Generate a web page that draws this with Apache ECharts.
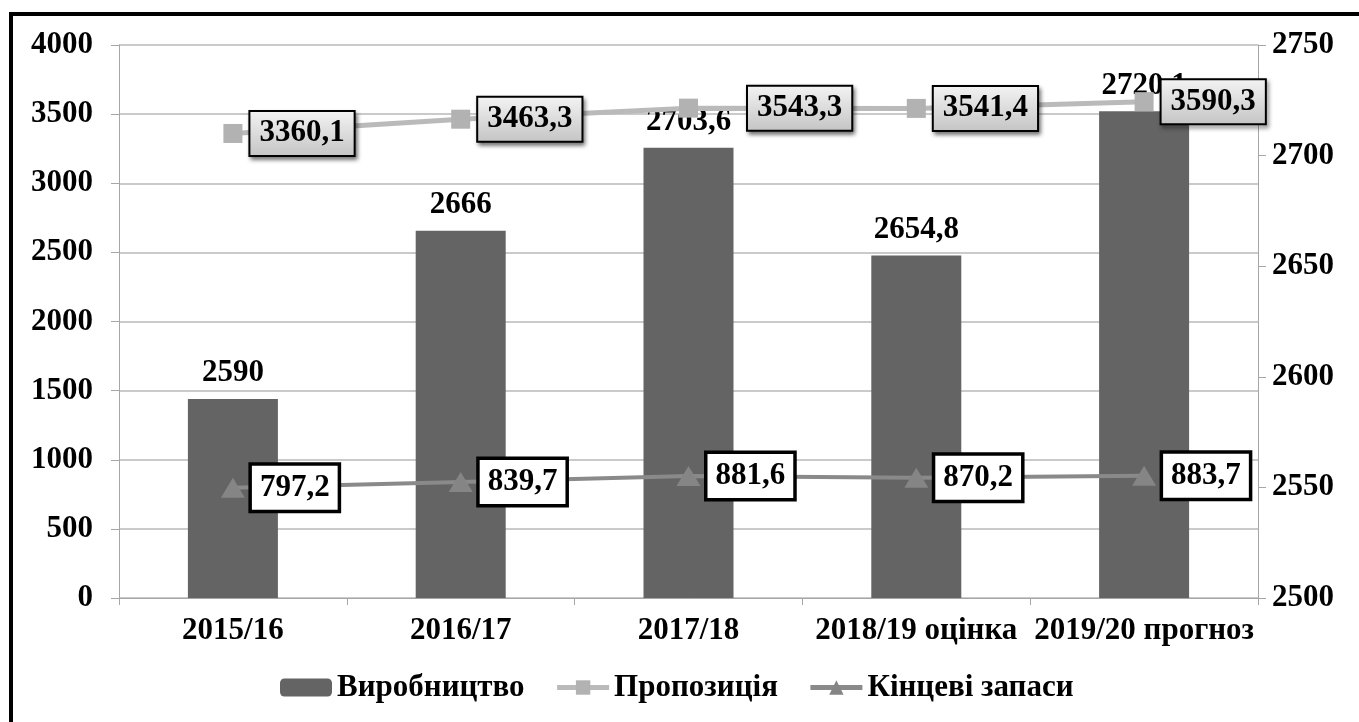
<!DOCTYPE html>
<html>
<head>
<meta charset="utf-8">
<script src="https://cdn.jsdelivr.net/npm/echarts@6/dist/echarts.min.js"></script>
<style>
  html, body { margin: 0; padding: 0; background: #fff; overflow: hidden; }
  #frame { position: absolute; left: 9px; top: 12px; width: 1400px; height: 800px; border: 4px solid #000; box-sizing: border-box; }
  #chart { position: absolute; left: 0; top: 0; width: 1359px; height: 722px; }
</style>
</head>
<body>
<div id="frame"></div>
<div id="chart"></div>
<script>
// категорії та значення
const categories = ['2015/16', '2016/17', '2017/18', '2018/19 оцінка', '2019/20 прогноз'];
const production = [2590, 2666, 2703.6, 2654.8, 2720.1];   // Виробництво (права вісь)
const supply = [3360.1, 3463.3, 3543.3, 3541.4, 3590.3];   // Пропозиція (ліва вісь)
const stocks = [797.2, 839.7, 881.6, 870.2, 883.7];        // Кінцеві запаси (ліва вісь)

const leftTicks = { min: 0, max: 4000, interval: 500 };
const rightTicks = { min: 2500, max: 2750, interval: 50 };

const font = 'Liberation Serif, Times New Roman, serif';
const fs = 31;
const comma = v => String(v).replace('.', ',');

// у 2017/18 підпис пропозиції зсунуто вправо, щоб не накривати підпис стовпця
const supplyData = supply.map((v, i) => i === 2 ? { value: v, label: { distance: 50 } } : v);

const chart = echarts.init(document.getElementById('chart'));

const option = {
    backgroundColor: 'transparent',
    textStyle: { fontFamily: font, fontWeight: 'bold', color: '#000' },
    grid: { left: 119, right: 101, top: 45, bottom: 124 },
    legend: {
        bottom: 14,
        left: 275,
        itemWidth: 52,
        itemHeight: 18,
        itemGap: 30,
        lineStyle: { width: 5 },
        textStyle: { fontFamily: font, fontWeight: 'bold', fontSize: fs, color: '#000' },
        data: ['Виробництво', 'Пропозиція', 'Кінцеві запаси']
    },
    xAxis: {
        type: 'category',
        data: categories,
        axisLine: { lineStyle: { color: '#a6a6a6', width: 1 } },
        axisTick: { show: true, length: 7, lineStyle: { color: '#a6a6a6' } },
        axisLabel: { fontFamily: font, fontWeight: 'bold', fontSize: fs, color: '#000', margin: 17, interval: 0 }
    },
    yAxis: [
        {
            type: 'value',
            min: leftTicks.min,
            max: leftTicks.max,
            interval: leftTicks.interval,
            axisLine: { show: true, lineStyle: { color: '#a6a6a6' } },
            axisTick: { show: true, length: 8, lineStyle: { color: '#a6a6a6' } },
            axisLabel: { fontFamily: font, fontWeight: 'bold', fontSize: fs, color: '#000', margin: 26, formatter: v => String(v) },
            splitLine: { lineStyle: { color: '#b8b8b8', width: 1.5 } }
        },
        {
            type: 'value',
            min: rightTicks.min,
            max: rightTicks.max,
            interval: rightTicks.interval,
            position: 'right',
            axisLine: { show: true, lineStyle: { color: '#a6a6a6' } },
            axisTick: { show: true, length: 8, lineStyle: { color: '#a6a6a6' } },
            axisLabel: { fontFamily: font, fontWeight: 'bold', fontSize: fs, color: '#000', margin: 14, formatter: v => String(v) },
            splitLine: { show: false }
        }
    ],
    series: [
        {
            name: 'Виробництво',
            type: 'bar',
            yAxisIndex: 1,
            data: production,
            barWidth: 90,
            itemStyle: { color: '#646464' },
            label: {
                show: true,
                position: 'top',
                distance: 10,
                fontFamily: font,
                fontWeight: 'bold',
                fontSize: fs,
                color: '#000',
                formatter: p => comma(p.value)
            },
            z: 2
        },
        {
            name: 'Пропозиція',
            type: 'line',
            yAxisIndex: 0,
            data: supplyData,
            symbol: 'rect',
            symbolSize: 19,
            lineStyle: { color: '#bababa', width: 5 },
            itemStyle: { color: '#b2b2b2' },
            label: {
                show: true,
                position: 'right',
                distance: 8,
                fontFamily: font,
                fontWeight: 'bold',
                fontSize: fs,
                color: '#000',
                padding: [7, 9, 5, 9],
                borderColor: '#000',
                borderWidth: 2,
                backgroundColor: {
                    type: 'linear', x: 0, y: 0, x2: 0, y2: 1,
                    colorStops: [{ offset: 0, color: '#f4f4f4' }, { offset: 1, color: '#c4c4c4' }]
                },
                shadowColor: 'rgba(0,0,0,0.45)',
                shadowBlur: 4,
                shadowOffsetX: 2,
                shadowOffsetY: 3,
                formatter: p => comma(p.value)
            },
            z: 5
        },
        {
            name: 'Кінцеві запаси',
            type: 'line',
            yAxisIndex: 0,
            data: stocks,
            symbol: 'triangle',
            symbolSize: [24, 20],
            lineStyle: { color: '#8a8a8a', width: 4 },
            itemStyle: { color: '#858585' },
            label: {
                show: true,
                position: 'right',
                distance: 7,
                fontFamily: font,
                fontWeight: 'bold',
                fontSize: fs,
                color: '#000',
                padding: [7, 8, 6, 8],
                borderColor: '#000',
                borderWidth: 3.5,
                backgroundColor: '#fff',
                formatter: p => comma(p.value)
            },
            z: 5
        }
    ]
};

chart.setOption(option);
</script>
</body>
</html>
